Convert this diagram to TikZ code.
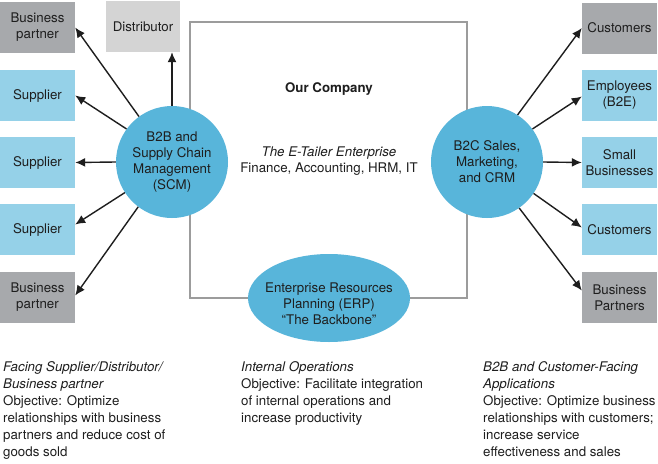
\documentclass[tikz,border=0pt]{standalone}
\usepackage{fontspec}
\setmainfont{TeX Gyre Heros}
\usetikzlibrary{arrows.meta,shapes.geometric}
\definecolor{boxgray}{HTML}{A7A9AC}
\definecolor{boxblue}{HTML}{95D1E8}
\definecolor{boxlight}{HTML}{D4D4D4}
\definecolor{circblue}{HTML}{58B5DA}
\definecolor{framegray}{HTML}{9C9C9C}
\definecolor{ink}{HTML}{1E1E1E}
\begin{document}
\begin{tikzpicture}[x=1pt,y=-1pt,
  every node/.style={font=\fontsize{13.3}{16}\selectfont, text=ink},
  box/.style={rectangle, minimum width=75pt, minimum height=51pt, inner sep=0pt, align=center},
  hub/.style={circle, fill=circblue, minimum size=112pt, inner sep=0pt, align=center},
  arr/.style={-{Latex[length=10pt,width=9pt]}, line width=1.4pt, draw=ink},
  note/.style={anchor=north west, align=left, inner sep=0pt, font=\fontsize{13.3}{17}\selectfont}
]
\useasboundingbox (0,0) rectangle (658,463);
\fill[white] (0,0) rectangle (658,463);

% frame of the company
\node[draw=framegray, line width=2pt, minimum width=277pt, minimum height=276pt, inner sep=0pt] (company) at (328.5,160) {};
\node[font=\fontsize{13.3}{16}\selectfont\bfseries] (ourco) at (329,89) {Our Company};
\node[align=center] (etailer) at (329,161) {\textit{The E-Tailer Enterprise}\\Finance, Accounting, HRM, IT};

% left boxes
\node[box,fill=boxgray] (bpl1) at (37.5,27.5) {Business\\partner};
\node[box,fill=boxblue] (sup1) at (37.5,95.5) {Supplier};
\node[box,fill=boxblue] (sup2) at (37.5,162.5) {Supplier};
\node[box,fill=boxblue] (sup3) at (37.5,229.5) {Supplier};
\node[box,fill=boxgray] (bpl2) at (37.5,297.5) {Business\\partner};
\node[box,fill=boxlight,minimum width=74pt] (dist) at (143,26.5) {Distributor};

% right boxes
\node[box,fill=boxgray] (cus1) at (619.5,28) {Customers};
\node[box,fill=boxblue] (emp) at (619.5,95.5) {Employees\\(B2E)};
\node[box,fill=boxblue] (small) at (619.5,162.5) {Small\\Businesses};
\node[box,fill=boxblue] (cus2) at (619.5,229.5) {Customers};
\node[box,fill=boxgray] (bpr) at (619.5,297.5) {Business\\Partners};

% hubs
\node[hub] (scm) at (172,162) {B2B and\\Supply Chain\\Management\\(SCM)};
\node[hub] (b2c) at (487,162) {B2C Sales,\\Marketing,\\and CRM};
\node[ellipse, fill=circblue, minimum width=162pt, minimum height=88pt, inner sep=0pt] (erp) at (329,298) {};
\node[align=center] (erptext) at (329,304) {Enterprise Resources\\Planning (ERP)\\“The Backbone”};

% arrows left
\draw[arr] (scm.126) -- (bpl1.east);
\draw[arr] (scm.144) -- (sup1.east);
\draw[arr] (scm.180) -- (sup2.east);
\draw[arr] (scm.213) -- ([yshift=5pt]sup3.east);
\draw[arr] (scm.233) -- ([yshift=2pt]bpl2.east);
\draw[arr] (scm.north) -- (scm.north |- dist.south);

% arrows right
\draw[arr] (b2c.57) -- (cus1.west);
\draw[arr] (b2c.36) -- ([yshift=-1pt]emp.west);
\draw[arr] (b2c.0) -- (small.west);
\draw[arr] (b2c.-34) -- ([yshift=2pt]cus2.west);
\draw[arr] (b2c.-55) -- ([yshift=7pt]bpr.west);

% bottom notes
\node[note] (nleft) at (3,361) {\textit{Facing Supplier/Distributor/}\\\textit{Business partner}\\Objective: Optimize\\relationships with business\\partners and reduce cost of\\goods sold};
\node[note] (nmid) at (241,361) {\textit{Internal Operations}\\Objective: Facilitate integration\\of internal operations and\\increase productivity};
\node[note] (nright) at (483,361) {\textit{B2B and Customer-Facing}\\\textit{Applications}\\Objective: Optimize business\\relationships with customers;\\increase service\\effectiveness and sales};
\end{tikzpicture}
\end{document}
